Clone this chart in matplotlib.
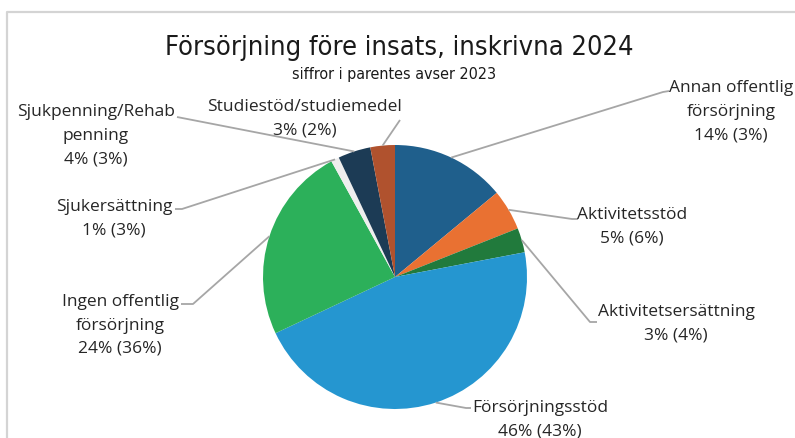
import matplotlib
matplotlib.use("Agg")
import matplotlib.pyplot as plt
import numpy as np

# ---- data ----
categories = ["Annan offentlig\nförsörjning", "Aktivitetsstöd", "Aktivitetsersättning",
              "Försörjningsstöd", "Ingen offentlig\nförsörjning", "Sjukersättning",
              "Sjukpenning/Rehab\npenning", "Studiestöd/studiemedel"]
values_2024 = [14, 5, 3, 46, 24, 1, 4, 3]
values_2023 = [3, 6, 4, 43, 36, 3, 3, 2]
colors = ["#1f5f8c", "#e97132", "#217a3c", "#2596d0", "#2cb05a", "#eeeeee", "#1c3b55", "#b0522e"]

title = "Försörjning före insats, inskrivna 2024"
subtitle = "siffror i parentes avser 2023"

W, H = 795, 439
fig = plt.figure(figsize=(W / 100, H / 100), dpi=100)
ax = fig.add_axes([0, 0, 1, 1])

def Y(y):
    return H - y

cx, cy, R = 395, Y(278), 132
wedges, _ = ax.pie(values_2024, colors=colors, startangle=90, counterclock=False,
                   center=(cx, cy), radius=R, frame=True,
                   wedgeprops=dict(linewidth=0))
ax.set_xlim(0, W)
ax.set_ylim(0, H)
ax.set_aspect("equal")
ax.axis("off")

# frame
ax.plot([7, 7, W + 5], [Y(440), Y(13), Y(13)], color="#d4d4d4", lw=1.6, clip_on=False)

# label layout: (text center x, first line y, corner (x,y), end (x,y))
layout = [
    (731, 88, (663, 93), (669, 92)),
    (632, 215, (572, 220), (578, 220)),
    (676, 312, (590, 323), (597, 323)),
    (540, 408, (466, 409), (471, 409)),
    (120, 302, (193, 305), (181, 305)),
    (114, 207, (182, 210), (175, 210)),
    (96, 112, (177, 118), (177, 118)),
    (305, 107, (400, 121), (400, 121)),
]

font = ["Open Sans", "DejaVu Sans"]
fs = 12.5
line_h = 23.5
for w, cat, v24, v23, (tx, ty, corner, end) in zip(wedges, categories, values_2024,
                                                   values_2023, layout):
    ang = np.deg2rad((w.theta1 + w.theta2) / 2)
    ex, ey = cx + R * np.cos(ang), cy + R * np.sin(ang)
    ax.plot([ex, corner[0], end[0]], [ey, Y(corner[1]), Y(end[1])],
            color="#a6a6a6", lw=1.3, solid_capstyle="butt")
    lines = cat.split("\n")
    for i, ln in enumerate(lines):
        ax.text(tx, Y(ty + i * line_h), ln, ha="center", va="center",
                fontsize=fs, family=font, color="#262626")
    ax.text(tx, Y(ty + len(lines) * line_h), f"{v24}% ({v23}%)", ha="center",
            va="center", fontsize=fs, family=font, color="#262626")

ax.text(399, Y(48), title, ha="center", va="center", fontsize=19.5,
        family=["DejaVu Sans"], fontstretch="condensed", color="#1a1a1a")
ax.text(394, Y(74), subtitle, ha="center", va="center", fontsize=11.5,
        family=["DejaVu Sans"], fontstretch="condensed", color="#1a1a1a")

fig.savefig("out.png", dpi=100, facecolor="white")
